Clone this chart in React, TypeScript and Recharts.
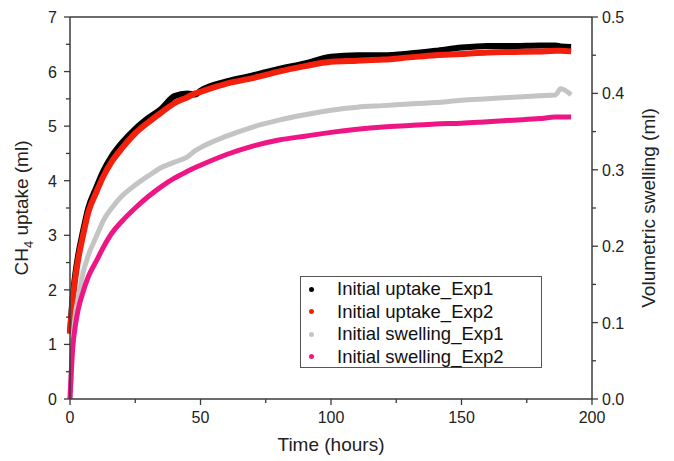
import { ComposedChart, Line, XAxis, YAxis, ReferenceLine } from "recharts";

const hours = [0, 1, 2, 3, 5, 7, 10, 13, 16, 20, 25, 30, 35, 40, 45, 48, 50, 60, 70, 80, 90, 100, 110, 120, 130, 140, 150, 160, 170, 180, 186, 188, 192];

// CH4 uptake (ml), left axis
const uptakeExp1 = [1.2, 1.85, 2.28, 2.6, 3.08, 3.5, 3.87, 4.2, 4.45, 4.7, 4.95, 5.15, 5.32, 5.55, 5.6, 5.58, 5.65, 5.82, 5.93, 6.05, 6.15, 6.27, 6.3, 6.3, 6.33, 6.38, 6.44, 6.47, 6.47, 6.48, 6.48, 6.46, 6.45];
const uptakeExp2 = [1.2, 1.8, 2.2, 2.52, 3.0, 3.42, 3.78, 4.1, 4.35, 4.6, 4.87, 5.07, 5.25, 5.42, 5.53, 5.6, 5.63, 5.78, 5.88, 6.0, 6.1, 6.18, 6.2, 6.22, 6.26, 6.3, 6.32, 6.35, 6.36, 6.37, 6.38, 6.38, 6.37];

// volumetric swelling (ml), right axis
const swellingExp1 = [0, 0.07, 0.11, 0.13, 0.165, 0.188, 0.212, 0.235, 0.25, 0.266, 0.28, 0.292, 0.303, 0.31, 0.317, 0.325, 0.329, 0.344, 0.356, 0.365, 0.372, 0.378, 0.382, 0.384, 0.386, 0.388, 0.391, 0.393, 0.395, 0.397, 0.398, 0.406, 0.398];
const swellingExp2 = [0, 0.065, 0.095, 0.115, 0.14, 0.16, 0.18, 0.2, 0.217, 0.233, 0.25, 0.265, 0.278, 0.289, 0.298, 0.303, 0.306, 0.32, 0.331, 0.339, 0.344, 0.349, 0.353, 0.356, 0.358, 0.36, 0.361, 0.363, 0.365, 0.367, 0.369, 0.369, 0.369];

const xTicks = [0, 25, 50, 75, 100, 125, 150, 175, 200];
const xLabels = [0, 50, 100, 150, 200];
const leftTicks = [0, 0.5, 1, 1.5, 2, 2.5, 3, 3.5, 4, 4.5, 5, 5.5, 6, 6.5, 7];
const leftLabels = [0, 1, 2, 3, 4, 5, 6, 7];
const rightTicks = [0, 0.05, 0.1, 0.15, 0.2, 0.25, 0.3, 0.35, 0.4, 0.45, 0.5];
const rightLabels = ["0.0", "0.1", "0.2", "0.3", "0.4", "0.5"];

const seriesNames = ["Initial uptake_Exp1", "Initial uptake_Exp2", "Initial swelling_Exp1", "Initial swelling_Exp2"];
const seriesColors = ["#000000", "#f2200c", "#c4c4c4", "#ee1685"];

const rows = hours.map((t, i) => ({
  t,
  u1: uptakeExp1[i],
  u2: uptakeExp2[i],
  s1: swellingExp1[i],
  s2: swellingExp2[i],
}));

const AXIS = "#3a3a3a";
const FONT = "'Liberation Sans', Arial, sans-serif";

const BottomTick = ({ x, y, payload }: any) => {
  const major = xLabels.includes(payload.value);
  return (
    <g>
      <line x1={x} x2={x} y1={y} y2={y + (major ? 6 : 4)} stroke={AXIS} strokeWidth={1.3} />
      {major && (
        <text x={x} y={y + 24} textAnchor="middle" fontSize={16} fontFamily={FONT} fill="#222">
          {payload.value}
        </text>
      )}
    </g>
  );
};

const LeftTick = ({ x, y, payload }: any) => {
  const major = leftLabels.includes(payload.value);
  return (
    <g>
      <line x1={x} x2={x - (major ? 6 : 4)} y1={y} y2={y} stroke={AXIS} strokeWidth={1.3} />
      {major && (
        <text x={x - 13} y={y + 6} textAnchor="end" fontSize={16} fontFamily={FONT} fill="#222">
          {payload.value}
        </text>
      )}
    </g>
  );
};

const RightTick = ({ x, y, payload }: any) => {
  const label = rightLabels.find((l) => Number(l) === payload.value);
  return (
    <g>
      <line x1={x} x2={x + (label ? 6 : 4)} y1={y} y2={y} stroke={AXIS} strokeWidth={1.3} />
      {label && (
        <text x={x + 10} y={y + 6} textAnchor="start" fontSize={16} fontFamily={FONT} fill="#222">
          {label}
        </text>
      )}
    </g>
  );
};

export default function App() {
  return (
    <div style={{ position: "absolute", left: 0, top: 0, width: 674, height: 461, background: "#fff" }}>
      <ComposedChart width={674} height={461} data={rows} margin={{ top: 17, right: 0, bottom: 0, left: 0 }}>
        <XAxis
          dataKey="t"
          type="number"
          domain={[0, 200]}
          ticks={xTicks}
          interval={0}
          tick={<BottomTick />}
          tickLine={false}
          tickSize={0}
          tickMargin={0}
          height={62}
          axisLine={{ stroke: AXIS, strokeWidth: 1.5 }}
          label={({ viewBox }: any) => (
            <text x={viewBox.x + viewBox.width / 2} y={viewBox.y + 52} textAnchor="middle" fontSize={19} fontFamily={FONT} fill="#222">
              Time (hours)
            </text>
          )}
        />
        <YAxis
          yAxisId="left"
          domain={[0, 7]}
          ticks={leftTicks}
          interval={0}
          tick={<LeftTick />}
          tickLine={false}
          tickSize={0}
          tickMargin={0}
          width={70}
          axisLine={{ stroke: AXIS, strokeWidth: 1.5 }}
          label={({ viewBox }: any) => {
            const cx = viewBox.x + 28;
            const cy = viewBox.y + viewBox.height / 2;
            return (
              <text x={cx} y={cy} transform={`rotate(-90 ${cx} ${cy})`} textAnchor="middle" fontSize={19} fontFamily={FONT} fill="#222">
                CH
                <tspan fontSize={13} dy={5}>4</tspan>
                <tspan dy={-5}> uptake (ml)</tspan>
              </text>
            );
          }}
        />
        <YAxis
          yAxisId="right"
          orientation="right"
          domain={[0, 0.5]}
          ticks={rightTicks}
          interval={0}
          tick={<RightTick />}
          tickLine={false}
          tickSize={0}
          tickMargin={0}
          width={82}
          axisLine={{ stroke: AXIS, strokeWidth: 1.5 }}
          label={({ viewBox }: any) => {
            const cx = viewBox.x + 63;
            const cy = viewBox.y + viewBox.height / 2;
            return (
              <text x={cx} y={cy} transform={`rotate(-90 ${cx} ${cy})`} textAnchor="middle" fontSize={19} fontFamily={FONT} fill="#222">
                Volumetric swelling (ml)
              </text>
            );
          }}
        />
        <ReferenceLine yAxisId="left" y={7} stroke={AXIS} strokeWidth={1.5} />
        <Line yAxisId="left" dataKey="u1" type="monotone" stroke={seriesColors[0]} strokeWidth={6} dot={false} isAnimationActive={false} />
        <Line yAxisId="left" dataKey="u2" type="monotone" stroke={seriesColors[1]} strokeWidth={6} dot={false} isAnimationActive={false} />
        <Line yAxisId="right" dataKey="s1" type="monotone" stroke={seriesColors[2]} strokeWidth={5} dot={false} isAnimationActive={false} />
        <Line yAxisId="right" dataKey="s2" type="monotone" stroke={seriesColors[3]} strokeWidth={5} dot={false} isAnimationActive={false} />
      </ComposedChart>
      <div
        style={{
          position: "absolute",
          left: 300,
          top: 276,
          width: 242,
          height: 92,
          border: "1px solid #555",
          fontFamily: FONT,
          fontSize: 18.5,
          color: "#111",
          paddingTop: 1,
          boxSizing: "border-box",
        }}
      >
        {seriesNames.map((name, i) => (
          <div key={name} style={{ display: "flex", alignItems: "center", height: 22.5 }}>
            <span style={{ width: 5, height: 5, borderRadius: 3, background: seriesColors[i], marginLeft: 8, marginRight: 23 }} />
            <span>{name}</span>
          </div>
        ))}
      </div>
    </div>
  );
}
